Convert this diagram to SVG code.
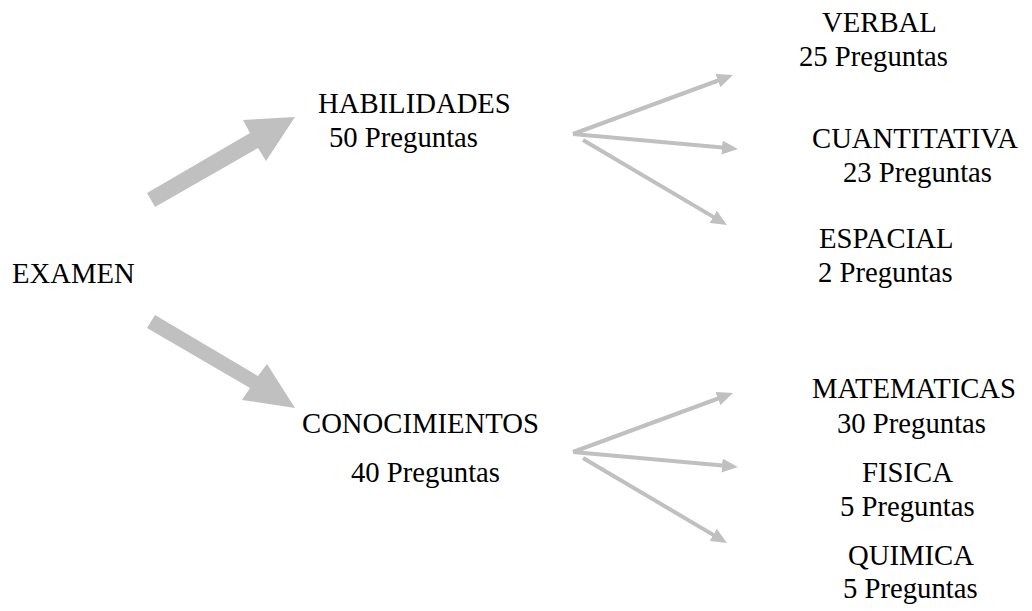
<svg xmlns="http://www.w3.org/2000/svg" width="1032" height="611" viewBox="0 0 1032 611">
<style>
text{font-family:"Liberation Serif","Times New Roman",serif;font-size:28.7px;fill:#000}
.big{fill:#c0c0c0;stroke:none}
.thin{stroke:#c0c0c0;stroke-width:4;fill:none;marker-end:url(#ah)}
</style>
<defs>
<marker id="ah" viewBox="0 0 16 14" refX="6" refY="7" markerWidth="16" markerHeight="14" markerUnits="userSpaceOnUse" orient="auto">
<path d="M0,0 L16,7 L0,14 z" fill="#c0c0c0"/>
</marker>
</defs>
<rect width="1032" height="611" fill="#fff"/>
<g id="connectors">
<polygon class="big" points="147,193 250,133 243,120 295,117 266,161 258,148 155,207"/>
<polygon class="big" points="155,315 258,376 267,364 295,408 242,400 250,388 147,328"/>
<path class="thin" d="M573,134 L723.6,78.5"/>
<path class="thin" d="M573,134 L728,148.1"/>
<path class="thin" d="M583,140 L718.4,219.9"/>
<path class="thin" d="M573,452 L723.6,396.5"/>
<path class="thin" d="M573,452 L728,466.1"/>
<path class="thin" d="M583,458 L718.4,537.9"/>
</g>
<g id="examen"><text x="12" y="283">EXAMEN</text></g>
<g id="habilidades"><text x="318" y="113">HABILIDADES</text><text x="329" y="147">50 Preguntas</text></g>
<g id="conocimientos"><text x="302" y="433">CONOCIMIENTOS</text><text x="351" y="482">40 Preguntas</text></g>
<g id="verbal"><text x="822" y="32">VERBAL</text><text x="799" y="66">25 Preguntas</text></g>
<g id="cuantitativa"><text x="812" y="148">CUANTITATIVA</text><text x="843" y="182">23 Preguntas</text></g>
<g id="espacial"><text x="819" y="248">ESPACIAL</text><text x="818" y="282">2 Preguntas</text></g>
<g id="matematicas"><text x="812" y="398">MATEMATICAS</text><text x="837" y="433">30 Preguntas</text></g>
<g id="fisica"><text x="862" y="482">FISICA</text><text x="840" y="516">5 Preguntas</text></g>
<g id="quimica"><text x="848" y="565">QUIMICA</text><text x="843" y="598">5 Preguntas</text></g>
</svg>
